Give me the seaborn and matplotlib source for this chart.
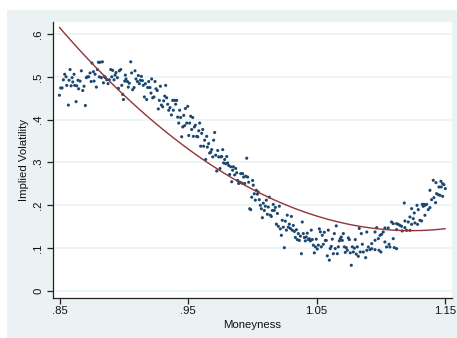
import numpy as np
import pandas as pd
import seaborn as sns
import matplotlib.pyplot as plt
from matplotlib.patches import Rectangle

# ---- data ----
moneyness = [
    .8495, .8505, .8516, .8526, .8536, .8547, .8552, .8565, .857, .8578,
    .8586, .8594, .8599, .8609, .8614, .8625, .863, .864, .8645, .8656,
    .8666, .8677, .8687, .8697, .8705, .8713, .8723, .8734, .8742, .8749,
    .876, .8765, .8773, .8783, .8791, .8799, .8806, .8812, .8822, .883,
    .8838, .8845, .8853, .8864, .8874, .8884, .8895, .8903, .891, .8921,
    .8929, .8936, .8947, .8955, .8962, .8973, .8981, .8988, .8994, .9004,
    .9009, .9014, .9025, .9032, .904, .9051, .9058, .9066, .9077, .9084,
    .9092, .9103, .911, .9118, .9126, .9134, .9142, .9149, .9157, .9165,
    .9175, .9183, .9191, .9201, .9209, .9214, .9222, .9232, .924, .9248,
    .9258, .9266, .9274, .9282, .929, .930, .9308, .9316, .9323, .9331,
    .9339, .9347, .9357, .9368, .9378, .9383, .9394, .9401, .9409, .9417,
    .9425, .9432, .944, .9448, .9456, .9464, .9471, .9477, .9487, .9495,
    .9503, .951, .9518, .9526, .9534, .9539, .9547, .9555, .9565, .9573,
    .9581, .9588, .9596, .9604, .9612, .9619, .9627, .9635, .9643, .9648,
    .9658, .9666, .9674, .9682, .969, .9697, .9705, .9713, .9721, .9729,
    .9736, .9747, .9752, .976, .9768, .9775, .9783, .9791, .9799, .9806,
    .9814, .9822, .983, .9838, .9845, .9851, .9861, .9869, .9877, .9884,
    .9892, .990, .9908, .9916, .9923, .9931, .9939, .9947, .9955, .9962,
    .997, .9978, .9986, .9994, 1.0001, 1.0006, 1.0014, 1.0022, 1.003, 1.0038,
    1.0045, 1.0053, 1.0061, 1.0069, 1.0077, 1.0084, 1.0092, 1.010, 1.0108, 1.0116,
    1.0123, 1.0131, 1.0139, 1.0147, 1.0155, 1.0162, 1.017, 1.0178, 1.0186, 1.0194,
    1.0201, 1.0209, 1.0217, 1.0225, 1.0232, 1.024, 1.0248, 1.0256, 1.0264, 1.0271,
    1.0279, 1.0287, 1.0295, 1.0303, 1.031, 1.0318, 1.0326, 1.0334, 1.0342, 1.0349,
    1.0357, 1.0365, 1.0373, 1.0381, 1.0388, 1.0396, 1.0404, 1.0412, 1.0419, 1.0427,
    1.0435, 1.0443, 1.0451, 1.0458, 1.0466, 1.0474, 1.0482, 1.049, 1.0497, 1.0505,
    1.0513, 1.0521, 1.0529, 1.0536, 1.0544, 1.0552, 1.056, 1.0568, 1.0575, 1.0583,
    1.0591, 1.0599, 1.0606, 1.0614, 1.0622, 1.063, 1.0638, 1.0645, 1.0653, 1.0661,
    1.0669, 1.0677, 1.0684, 1.0692, 1.070, 1.0708, 1.0716, 1.0723, 1.0731, 1.0739,
    1.0747, 1.0755, 1.0762, 1.077, 1.0778, 1.0786, 1.0794, 1.0801, 1.0809, 1.0817,
    1.0825, 1.0832, 1.084, 1.0848, 1.0856, 1.0864,
    1.1409, 1.143, 1.1469, 1.1482, 1.1492, 1.1503, 1.1453, 1.1471, 1.1383, 1.1435,
    1.1448, 1.1461, 1.1482, 1.1414, 1.1396, 1.1427, 1.1183, 1.1282, 1.1323, 1.1336,
    1.1344, 1.1357, 1.1331, 1.1383, 1.137, 1.124, 1.1292, 1.1261, 1.1344, 1.1227,
    1.1253, 1.1305, 1.1318, 1.1188, 1.1214, 1.1084, 1.1097, 1.1266, 1.1123, 1.1136,
    1.1149, 1.124, 1.1287, 1.1162, 1.1188, 1.1227, 1.1032, 1.1058, 1.0968, 1.1201,
    1.1167, 1.1123, 1.1019, 1.0955, 1.0891, 1.0994, 1.1006, 1.1097, 1.0981, 1.0955,
    1.0929, 1.0903, 1.1032, 1.1064, 1.1045, 1.1071, 1.1105, 1.1123, 1.0986, 1.1001,
    1.0916, 1.0891, 1.0929, 1.0955, 1.0882,
]
implied_vol = [
    .457, .474, .474, .493, .506, .500, .480, .434, .492, .517,
    .479, .498, .488, .506, .480, .442, .479, .492, .472, .490,
    .514, .468, .478, .433, .498, .500, .500, .509, .489, .532,
    .512, .490, .506, .476, .517, .534, .500, .534, .498, .535,
    .486, .501, .498, .493, .484, .493, .517, .500, .515, .493,
    .504, .510, .498, .473, .514, .517, .480, .459, .447, .490,
    .504, .495, .489, .476, .485, .535, .509, .470, .475, .514,
    .495, .489, .503, .484, .492, .501, .491, .480, .453, .484,
    .447, .475, .489, .475, .462, .495, .451, .453, .489, .472,
    .468, .425, .445, .478, .434, .430, .444, .455, .480, .451,
    .436, .422, .428, .411, .445, .422, .445, .436, .445, .406,
    .392, .422, .405, .360, .383, .410, .386, .426, .392, .431,
    .363, .392, .408, .377, .405, .361, .383, .387, .361, .360,
    .374, .392, .338, .368, .377, .338, .352, .307, .361, .336,
    .344, .322, .324, .330, .313, .352, .370, .317, .280, .328,
    .313, .286, .313, .314, .330, .299, .307, .297, .314, .299,
    .293, .272, .290, .255, .282, .290, .271, .286, .276, .258,
    .251, .254, .274, .252, .274, .266, .251, .268, .310, .266,
    .254, .192, .190, .219, .258, .247, .227, .212, .235, .226,
    .231, .213, .200, .192, .171, .205, .188, .198, .212, .179,
    .196, .219, .177, .174, .188, .202, .188, .195, .156, .181,
    .151, .198, .145, .130, .165, .149, .101, .163, .142, .177,
    .149, .156, .146, .174, .142, .153, .139, .125, .143, .120,
    .134, .118, .128, .087, .161, .134, .125, .117, .126, .135,
    .120, .122, .117, .142, .120, .107, .089, .103, .121, .098,
    .107, .145, .138, .103, .130, .109, .137, .118, .118, .082,
    .142, .072, .099, .104, .121, .087, .134, .099, .152, .087,
    .103, .117, .122, .126, .118, .134, .103, .090, .101, .095,
    .124, .120, .089, .060, .103, .091, .100, .120, .086, .103,
    .081, .146, .091, .134, .109, .091,
    .2584, .2529, .256, .2506, .2482, .2389, .2428, .2428, .235, .2272,
    .2249, .2233, .221, .2179, .2132, .2062, .2054, .200, .2023, .2023,
    .200, .2023, .1977, .1946, .1899, .1922, .1899, .1821, .1767, .1728,
    .1689, .165, .1634, .1634, .1611, .1611, .1572, .1588, .1572, .1556,
    .1533, .1556, .1556, .151, .1479, .1416, .1471, .1471, .1479, .1416,
    .1401, .1432, .1377, .1377, .1377, .130, .1323, .1222, .1222, .1183,
    .1105, .1027, .1144, .109, .1027, .1027, .1012, .0988, .0949, .091,
    .0965, .0949, .0988, .0965, .0778,
]
x_ticks = [0.85, 0.95, 1.05, 1.15]
x_tick_labels = [".85", ".95", "1.05", "1.15"]
y_ticks = [0, 0.1, 0.2, 0.3, 0.4, 0.5, 0.6]
y_tick_labels = ["0", ".1", ".2", ".3", ".4", ".5", ".6"]

df = pd.DataFrame({"Moneyness": moneyness, "Implied Volatility": implied_vol})

sns.set_theme(style="white")
plt.rcParams['font.family'] = ['Liberation Sans', 'DejaVu Sans']

W, H = 457, 338
fig = plt.figure(figsize=(W / 100, H / 100), dpi=100, facecolor='white')
fig.patches.append(Rectangle((7 / W, 0), 1 - 7 / W, 1 - 10 / H, transform=fig.transFigure,
                             facecolor='#eaf2f3', edgecolor='none', zorder=-10))
ax = fig.add_axes([53 / W, 1 - 298 / H, (452 - 53) / W, (298 - 22) / H])
ax.set_facecolor('white')

sns.scatterplot(data=df, x="Moneyness", y="Implied Volatility", ax=ax, s=5,
                color='#1a476f', edgecolor='none', linewidth=0, zorder=3)
sns.regplot(data=df, x="Moneyness", y="Implied Volatility", ax=ax, order=2,
            scatter=False, ci=None, line_kws=dict(color='#90353b', lw=1.0, zorder=4))

ax.set_xlim(0.8445, 1.1555)
ax.set_ylim(-0.0164, 0.628)
ax.set_xticks(x_ticks)
ax.set_xticklabels(x_tick_labels)
ax.set_yticks(y_ticks)
ax.set_yticklabels(y_tick_labels, rotation=90, va='center')
ax.yaxis.grid(True, color='#eaf2f3', lw=1.2)
ax.xaxis.grid(False)
ax.set_axisbelow(True)

for s in ['top', 'right']:
    ax.spines[s].set_visible(False)
for s in ['left', 'bottom']:
    ax.spines[s].set_color('#222222')
    ax.spines[s].set_linewidth(0.9)

ax.tick_params(axis='both', which='major', bottom=True, left=True, direction='out',
               length=4, width=0.9, color='#222222', labelsize=8.2, labelcolor='#111111')
ax.tick_params(axis='x', pad=2)
ax.tick_params(axis='y', pad=3)
ax.set_xlabel("Moneyness", fontsize=8.2, color='#111111', labelpad=3)
ax.set_ylabel("Implied Volatility", fontsize=8.2, color='#111111', labelpad=3)

fig.savefig("out.png", dpi=100, facecolor=fig.get_facecolor())
